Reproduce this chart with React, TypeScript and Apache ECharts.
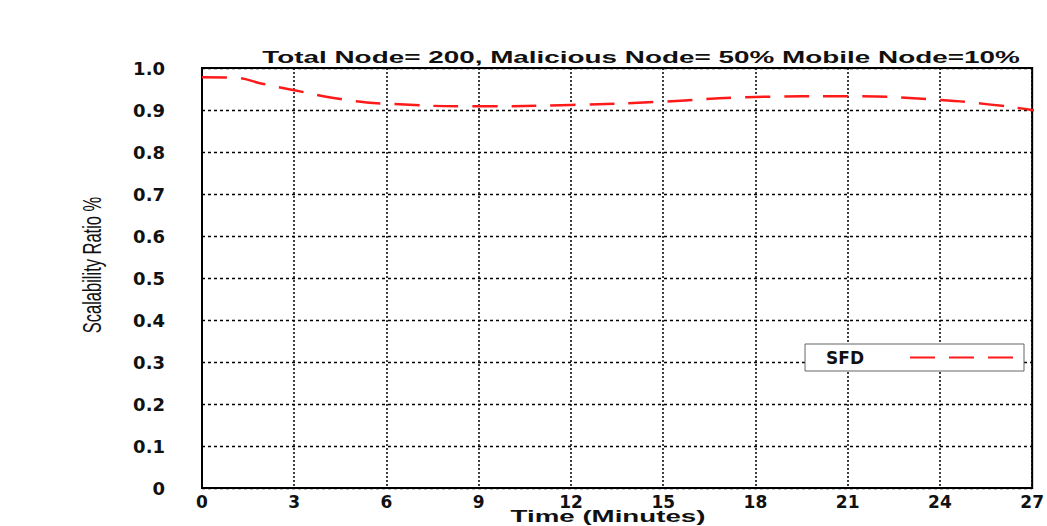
import React, { useEffect, useRef } from "react";
import * as echarts from "echarts";

const timeMinutes = [0, 1, 2, 3, 4.5, 6, 9, 12, 15, 18, 21, 24, 25.5, 27, 27.25];
const sfdRatio = [0.978, 0.977, 0.962, 0.947, 0.926, 0.915, 0.909, 0.912, 0.92, 0.931, 0.933, 0.924, 0.914, 0.9, 0.895];
const xTicks = [0, 3, 6, 9, 12, 15, 18, 21, 24, 27];
const yTicks = [0, 0.1, 0.2, 0.3, 0.4, 0.5, 0.6, 0.7, 0.8, 0.9, 1.0];

const titleText = "Total Node= 200, Malicious Node= 50% Mobile Node=10%";
const xName = "Time (Minutes)";
const yName = "Scalability Ratio %";
const seriesName = "SFD";

export default function App() {
  const ref = useRef<HTMLDivElement>(null);
  useEffect(() => {
    document.body.style.margin = "0";
    const chart = echarts.init(ref.current!, null, { renderer: "svg" });
    const font = "Liberation Sans, Arial, sans-serif";
    const wide = "DejaVu Sans, Verdana, sans-serif";
    chart.setOption({
      animation: false,
      backgroundColor: "#ffffff",
      graphic: [
        {
          type: "text",
          x: 641,
          y: 57,
          scaleX: 1.64,
          silent: true,
          style: {
            text: titleText,
            font: `bold 17px ${font}`,
            fill: "#111",
            align: "center",
            verticalAlign: "middle",
          },
        },
        {
          type: "text",
          x: 608,
          y: 516,
          scaleX: 1.63,
          silent: true,
          style: {
            text: xName,
            font: `bold 17px ${font}`,
            fill: "#111",
            align: "center",
            verticalAlign: "middle",
          },
        },
        {
          type: "text",
          x: 92,
          y: 265,
          rotation: Math.PI / 2,
          scaleY: 1.6,
          silent: true,
          style: {
            text: yName,
            font: `16.5px ${font}`,
            fill: "#111",
            align: "center",
            verticalAlign: "middle",
          },
        },
      ],
      grid: {
        left: 202,
        right: 12,
        top: 68,
        bottom: 38,
        show: true,
        borderColor: "#000",
        borderWidth: 2,
        backgroundColor: "transparent",
      },
      legend: {
        data: [seriesName],
        right: 23,
        top: 344,
        align: "right",
        itemWidth: 104,
        itemHeight: 14,
        backgroundColor: "#fff",
        borderColor: "#666",
        borderWidth: 1,
        borderRadius: 0,
        padding: [5, 9, 5, 21],
        itemStyle: { opacity: 0 },
        textStyle: {
          fontFamily: wide,
          fontWeight: "bold",
          fontSize: 17,
          color: "#111",
          padding: [0, 41, 0, 0],
        },
      },
      xAxis: {
        type: "value",
        min: 0,
        max: 27,
        interval: 3,
        axisLine: { show: true, lineStyle: { color: "#000", width: 2 } },
        axisTick: { show: false },
        axisLabel: {
          margin: 5,
          fontFamily: wide,
          fontWeight: "bold",
          fontSize: 17,
          color: "#111",
          formatter: (v: number) => (xTicks.includes(v) ? String(v) : ""),
        },
        splitLine: { show: true, lineStyle: { color: "#000", type: [2, 2], width: 1.5 } },
      },
      yAxis: {
        type: "value",
        min: 0,
        max: 1,
        interval: 0.1,
        axisLine: { show: true, lineStyle: { color: "#000", width: 2 } },
        axisTick: { show: false },
        axisLabel: {
          margin: 37,
          fontFamily: wide,
          fontWeight: "bold",
          fontSize: 18,
          color: "#111",
          formatter: (v: number) => {
            const t = yTicks.find((y) => Math.abs(y - v) < 1e-6);
            if (t === undefined) return "";
            return t === 0 ? "0" : t.toFixed(1);
          },
        },
        splitLine: { show: true, lineStyle: { color: "#000", type: [3, 3], width: 1.3 } },
      },
      series: [
        {
          name: seriesName,
          type: "line",
          smooth: 0.5,
          showSymbol: false,
          symbol: "none",
          clip: false,
          data: timeMinutes.map((t, i) => [t, sfdRatio[i]]),
          lineStyle: { color: "#ff1a1a", width: 2.5, type: [25, 14] },
          itemStyle: { color: "#ff1a1a" },
        },
      ],
    });
    return () => chart.dispose();
  }, []);
  return <div ref={ref} style={{ width: 1047, height: 526 }} />;
}
